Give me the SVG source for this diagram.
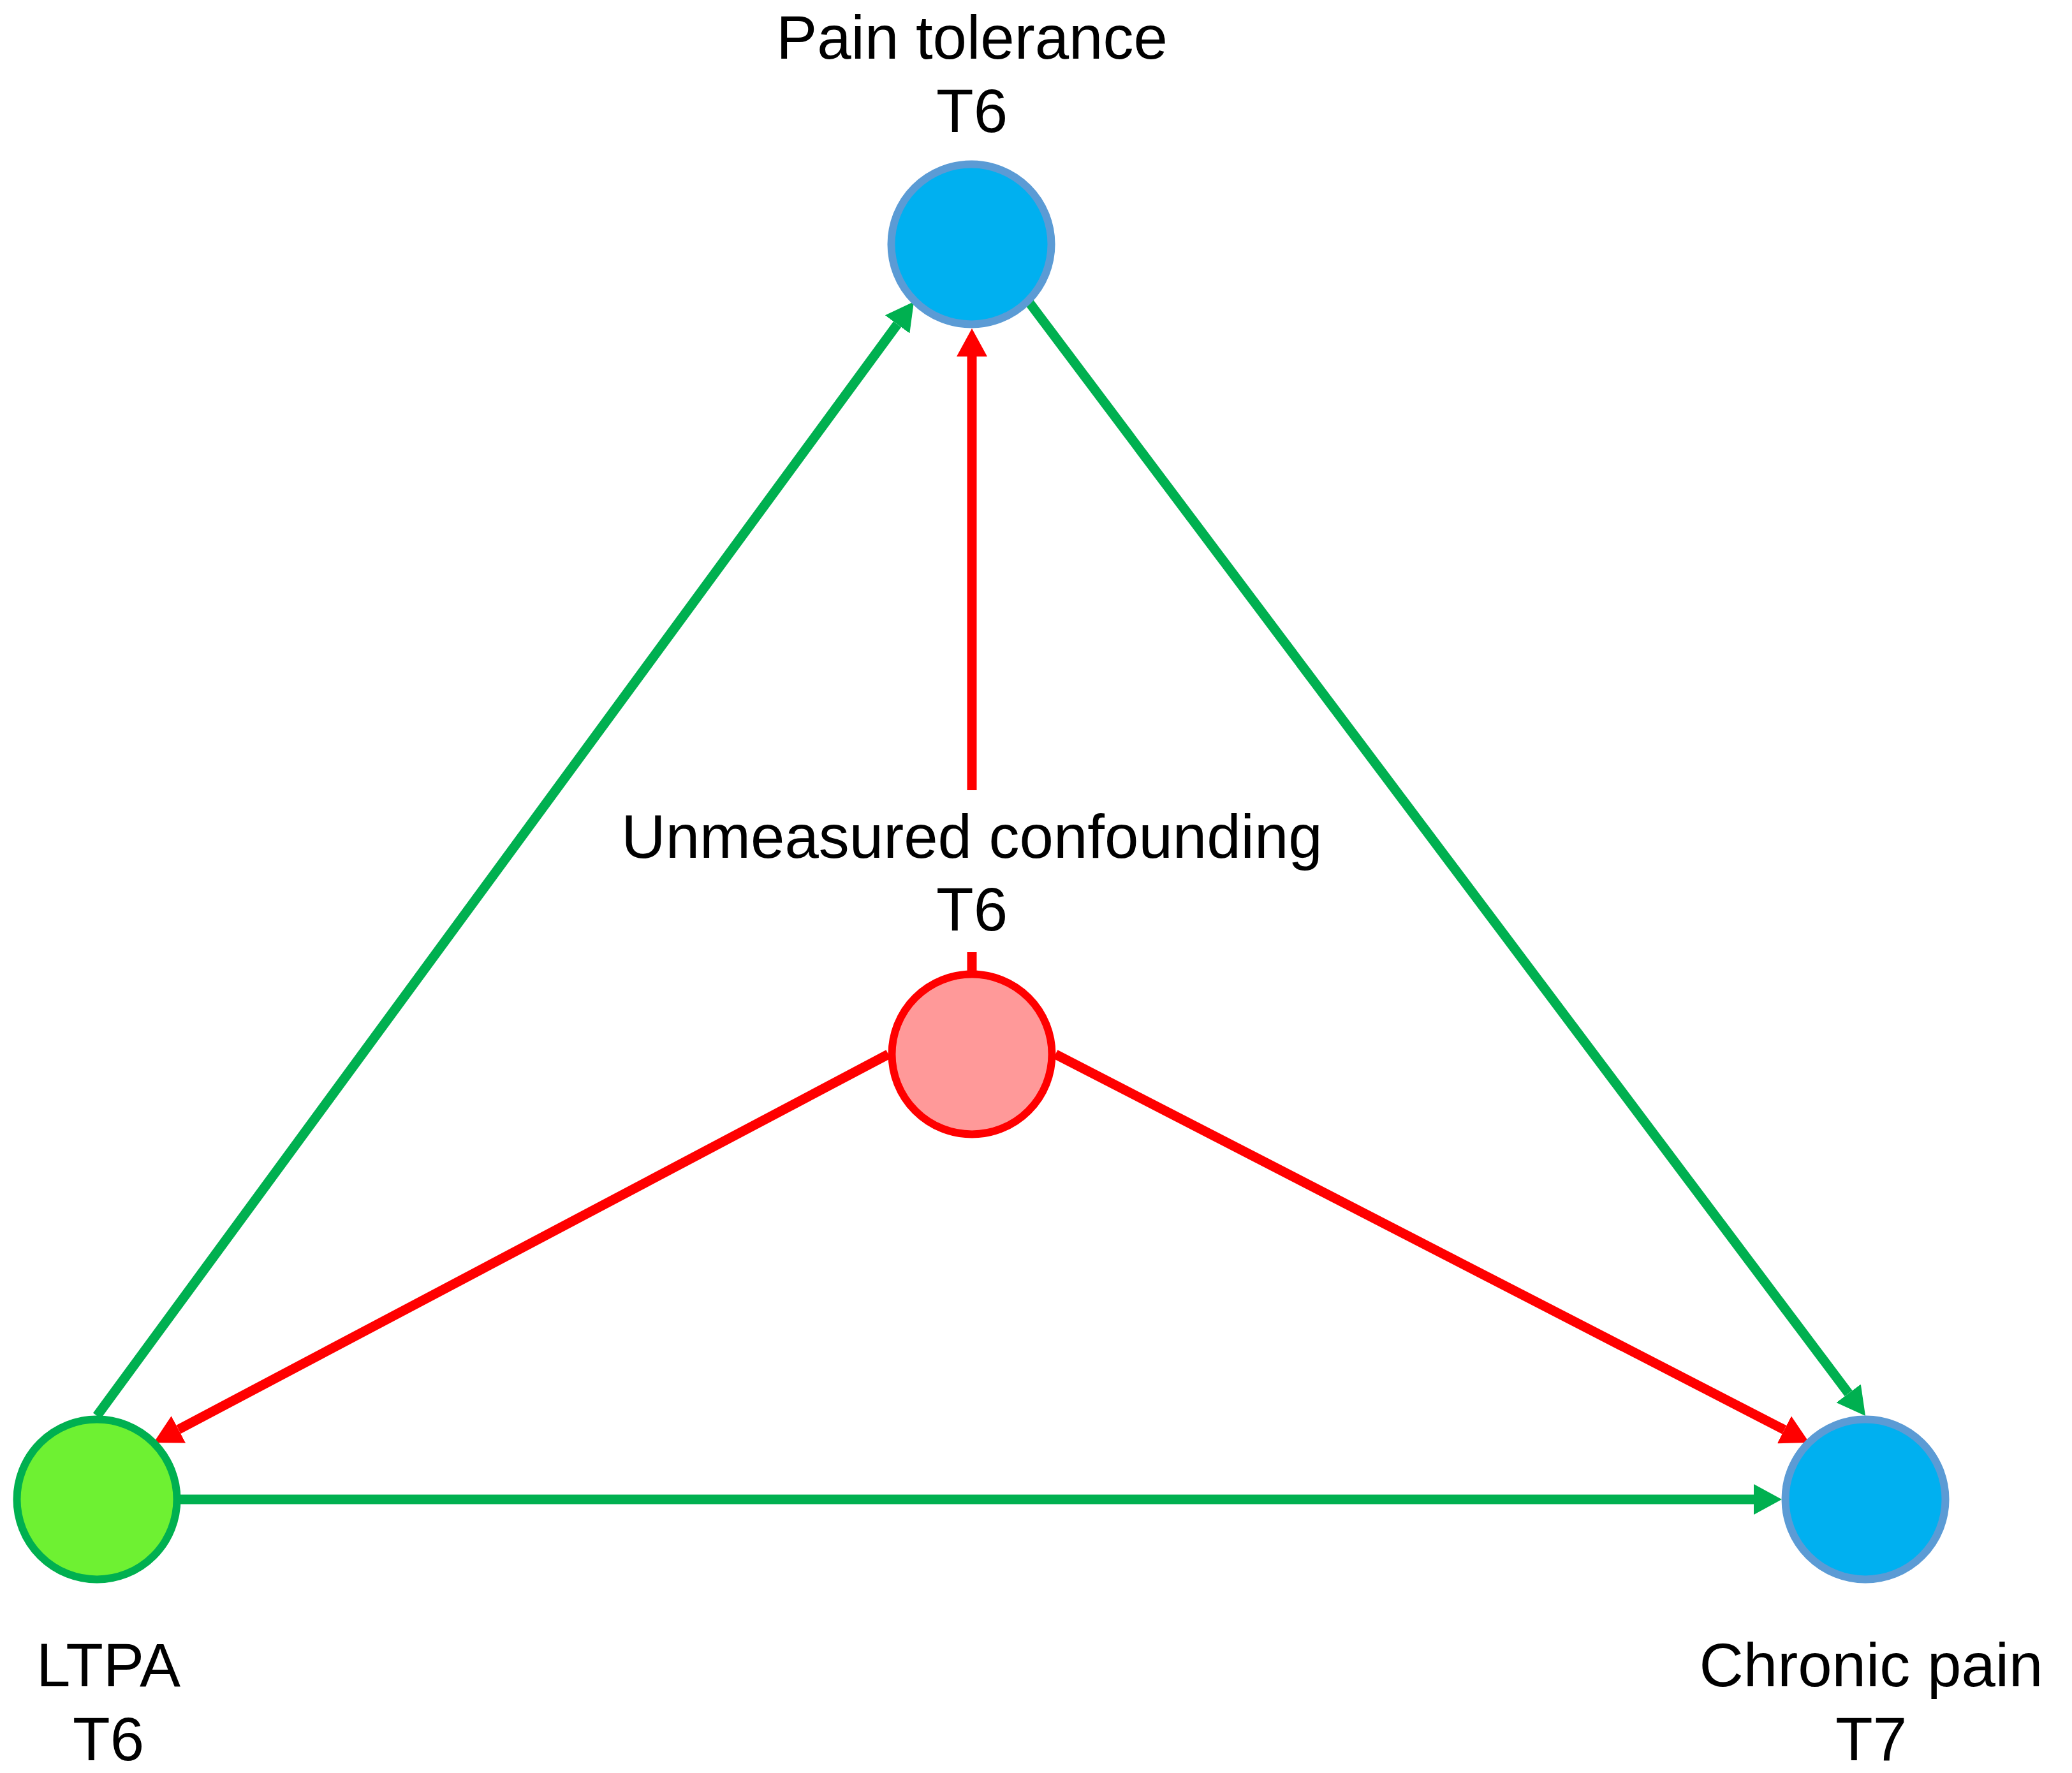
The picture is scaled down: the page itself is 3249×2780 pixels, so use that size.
<svg xmlns="http://www.w3.org/2000/svg" width="3249" height="2780" viewBox="0 0 3249 2780">
  <style>
    .lbl { font-family: "Liberation Sans", Arial, sans-serif; font-size: 96px; fill: #000000; text-anchor: middle; }
    .edge { fill: none; stroke-width: 15; stroke-linecap: butt; }
    .g { stroke: #00B050; }
    .r { stroke: #FF0000; }
    .nd { stroke-width: 12; }
  </style>
  <defs>
    <marker id="ahG" markerUnits="userSpaceOnUse" markerWidth="44" markerHeight="48" viewBox="0 0 44 48" refX="0" refY="24" orient="auto">
      <path d="M0,0 L44,24 L0,48 Z" fill="#00B050"/>
    </marker>
    <marker id="ahR" markerUnits="userSpaceOnUse" markerWidth="44" markerHeight="48" viewBox="0 0 44 48" refX="0" refY="24" orient="auto">
      <path d="M0,0 L44,24 L0,48 Z" fill="#FF0000"/>
    </marker>
  </defs>
  <rect width="3249" height="2780" fill="#FFFFFF"/>
  <g id="connectors">
    <path id="e-ltpa-pt" class="edge g" d="M152,2220 L1407,508.5" marker-end="url(#ahG)"/>
    <path id="e-pt-cp" class="edge g" d="M1613,473 L2898.6,2184.8" marker-end="url(#ahG)"/>
    <path id="e-ltpa-cp" class="edge g" d="M283,2351 L2750,2351" marker-end="url(#ahG)"/>
    <path id="e-uc-pt" class="edge r" d="M1524,1522 L1524,1493 M1524,1239 L1524,559" marker-end="url(#ahR)"/>
    <path id="e-uc-ltpa" class="edge r" d="M1393,1653 L279.9,2241.4" marker-end="url(#ahR)"/>
    <path id="e-uc-cp" class="edge r" d="M1655,1653 L2797.9,2241.8" marker-end="url(#ahR)"/>
  </g>
  <g id="node-pain-tolerance">
    <circle class="nd" cx="1523" cy="383" r="125.5" fill="#00B0F0" stroke="#5B9BD5"/>
    <text class="lbl" x="1524" y="92">Pain tolerance</text>
    <text class="lbl" x="1524" y="207">T6</text>
  </g>
  <g id="node-unmeasured">
    <circle class="nd" cx="1524" cy="1653" r="125.5" fill="#FF9999" stroke="#FF0000"/>
    <text class="lbl" x="1524" y="1345">Unmeasured confounding</text>
    <text class="lbl" x="1524" y="1459">T6</text>
  </g>
  <g id="node-ltpa">
    <circle class="nd" cx="152" cy="2351" r="125.5" fill="#6EF132" stroke="#00B050"/>
    <text class="lbl" x="170" y="2644">LTPA</text>
    <text class="lbl" x="170" y="2760">T6</text>
  </g>
  <g id="node-chronic-pain">
    <circle class="nd" cx="2925" cy="2351" r="125.5" fill="#00B0F0" stroke="#5B9BD5"/>
    <text class="lbl" x="2934" y="2644">Chronic pain</text>
    <text class="lbl" x="2934" y="2760">T7</text>
  </g>
</svg>
